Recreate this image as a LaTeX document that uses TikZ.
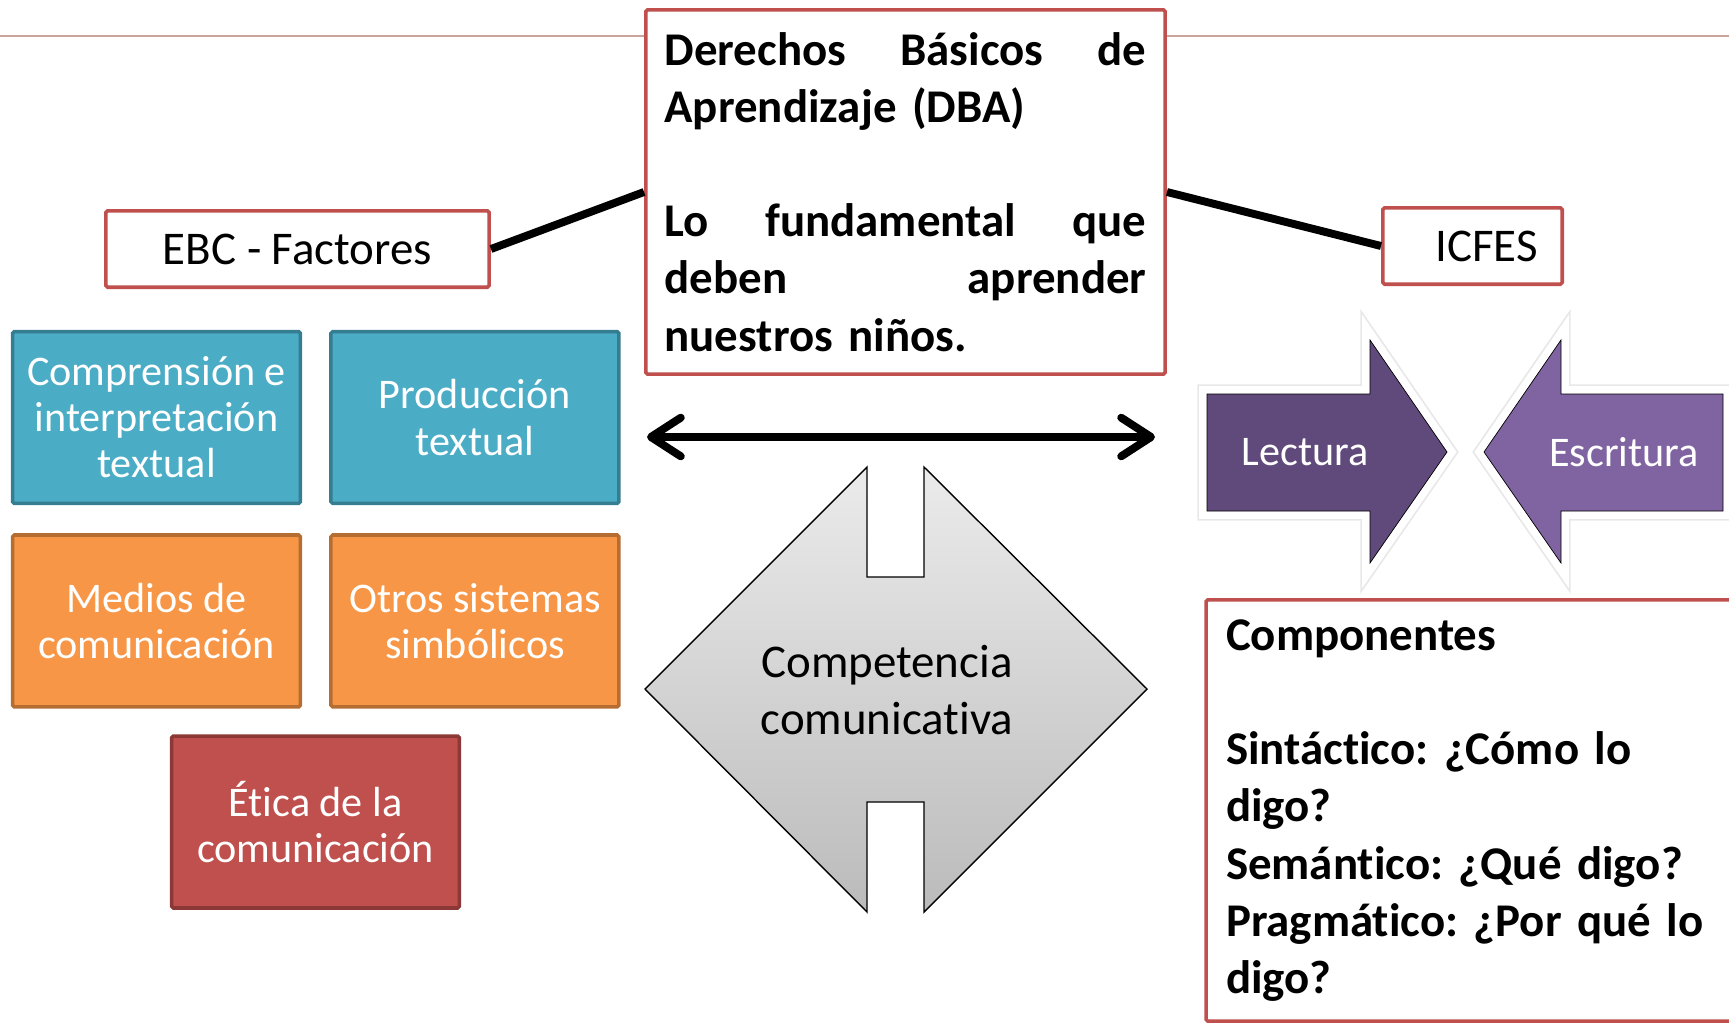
\documentclass[tikz,border=0pt]{standalone}
\usepackage{fontspec}
\setmainfont{Carlito}[Ligatures=NoCommon]
\frenchspacing
\usetikzlibrary{positioning,arrows.meta}

\definecolor{dbared}{HTML}{C0504D}
\definecolor{tealfill}{HTML}{4BACC6}
\definecolor{tealline}{HTML}{357D91}
\definecolor{orangefill}{HTML}{F79646}
\definecolor{orangeline}{HTML}{B66D31}
\definecolor{redfill}{HTML}{C0504D}
\definecolor{redline}{HTML}{8C3836}
\definecolor{lectpurple}{HTML}{604A7B}
\definecolor{escrpurple}{HTML}{8064A2}
\definecolor{rulecolor}{HTML}{C8A49C}
\definecolor{shadetop}{HTML}{EBEBEB}
\definecolor{shadebottom}{HTML}{BBBBBB}

\tikzset{
>={Straight Barb[round, length=17pt, width=22pt]},
every node/.style={inner sep=4pt},
}

\begin{document}
\begin{tikzpicture}
    [x=0.02cm, y=-0.02cm,
    bigtext/.style={font=\fontsize{26.7}{32.5}\selectfont},
    boldtext/.style={font=\fontsize{26.7}{32.5}\selectfont\bfseries},
    redframe/.style={draw=dbared, line width=2pt, fill=white, rounded corners=1pt},
    tilebox/.style={line width=2pt, rounded corners=1pt, minimum width=5.76cm,
        minimum height=3.44cm, align=center, text=white,
        font=\fontsize{24}{26.2}\selectfont},
    tealbox/.style={tilebox, draw=tealline, fill=tealfill},
    orangebox/.style={tilebox, draw=orangeline, fill=orangefill},
    redbox/.style={tilebox, draw=redline, fill=redfill},
    arrowtext/.style={text=white, font=\fontsize{24}{26.2}\selectfont},
    bigarrow/.style={
        preaction={draw=black!9, line width=11pt, line join=miter},
        preaction={draw=white, line width=9pt, line join=miter}},
    link/.style={line width=4.5pt}
    ]

    \useasboundingbox (0,0) rectangle (1729,1025);

    \draw [rulecolor, line width=1pt] (0,36) -- (1729,36);

    \node [redframe, boldtext, text width=9.64cm, inner xsep=0.375cm,
           minimum height=7.29cm, align=left] (dba) at (905.5,192)
    {
        Derechos\hfill Básicos\hfill de\\
        Aprendizaje (DBA)\\
        \mbox{}\\
        Lo\hfill fundamental\hfill que\\
        deben\hfill aprender\\
        nuestros niños.
    };

    \node [redframe, bigtext, minimum width=7.67cm, minimum height=1.53cm] (ebc) at (297.5,249)
    {EBC - Factores};

    \node [redframe, bigtext, minimum width=3.59cm, minimum height=1.53cm] (icfes) at (1472.5,246)
    {\hspace*{0.56cm}ICFES};

    \node [tealbox] (compr) at (156.5,417.5)
    {
        Comprensión e\\
        interpretación\\
        textual
    };

    \node [tealbox] (prod) [right=0.54cm of compr]
    {
        Producción\\
        textual
    };

    \node [orangebox] (medios) [below=0.56cm of compr]
    {
        Medios de\\
        comunicación
    };

    \node [orangebox] (otros) [below=0.56cm of prod]
    {
        Otros sistemas\\
        simbólicos
    };

    \node [redbox] (etica) at (315.5,822)
    {
        Ética de la\\
        comunicación
    };

    \draw [top color=shadetop, bottom color=shadebottom, draw=black, line width=0.8pt]
        (645,689) -- (867,467) -- (867,577) -- (924,577) -- (924,467) -- (1147,689)
        -- (924,912) -- (924,802) -- (867,802) -- (867,912) -- cycle;
    \node [bigtext, align=center] (cc) at (887,690)
    {
        Competencia\\
        comunicativa
    };

    \draw [bigarrow, fill=lectpurple] (1207,394) -- (1370,394) -- (1370,340) -- (1447,452)
        -- (1370,563) -- (1370,511) -- (1207,511) -- cycle;
    \draw [bigarrow, fill=escrpurple] (1723,394) -- (1561,394) -- (1561,340) -- (1484,452)
        -- (1561,563) -- (1561,511) -- (1723,511) -- cycle;
    \node [arrowtext] (lect) at (1305,452) {Lectura};
    \node [arrowtext] (escr) at (1624,452) {Escritura};

    \node [redframe, boldtext, text width=10.28cm, inner xsep=0.4cm,
           minimum height=8.43cm, align=left] (componentes) at (1483,810.5)
    {
        Componentes\\
        \mbox{}\\
        Sintáctico: ¿Cómo lo\\
        digo?\\
        Semántico: ¿Qué digo?\\
        Pragmático: ¿Por qué lo\\
        digo?
    };

    \coordinate (arrl) at (647,437);
    \coordinate (arrr) at (1155,437);

    \draw [link] (ebc.east) -- (dba.west);
    \draw [link] (dba.east) -- (icfes.west);
    \draw [<->, link, line cap=round] (arrl) -- (arrr);

\end{tikzpicture}
\end{document}
